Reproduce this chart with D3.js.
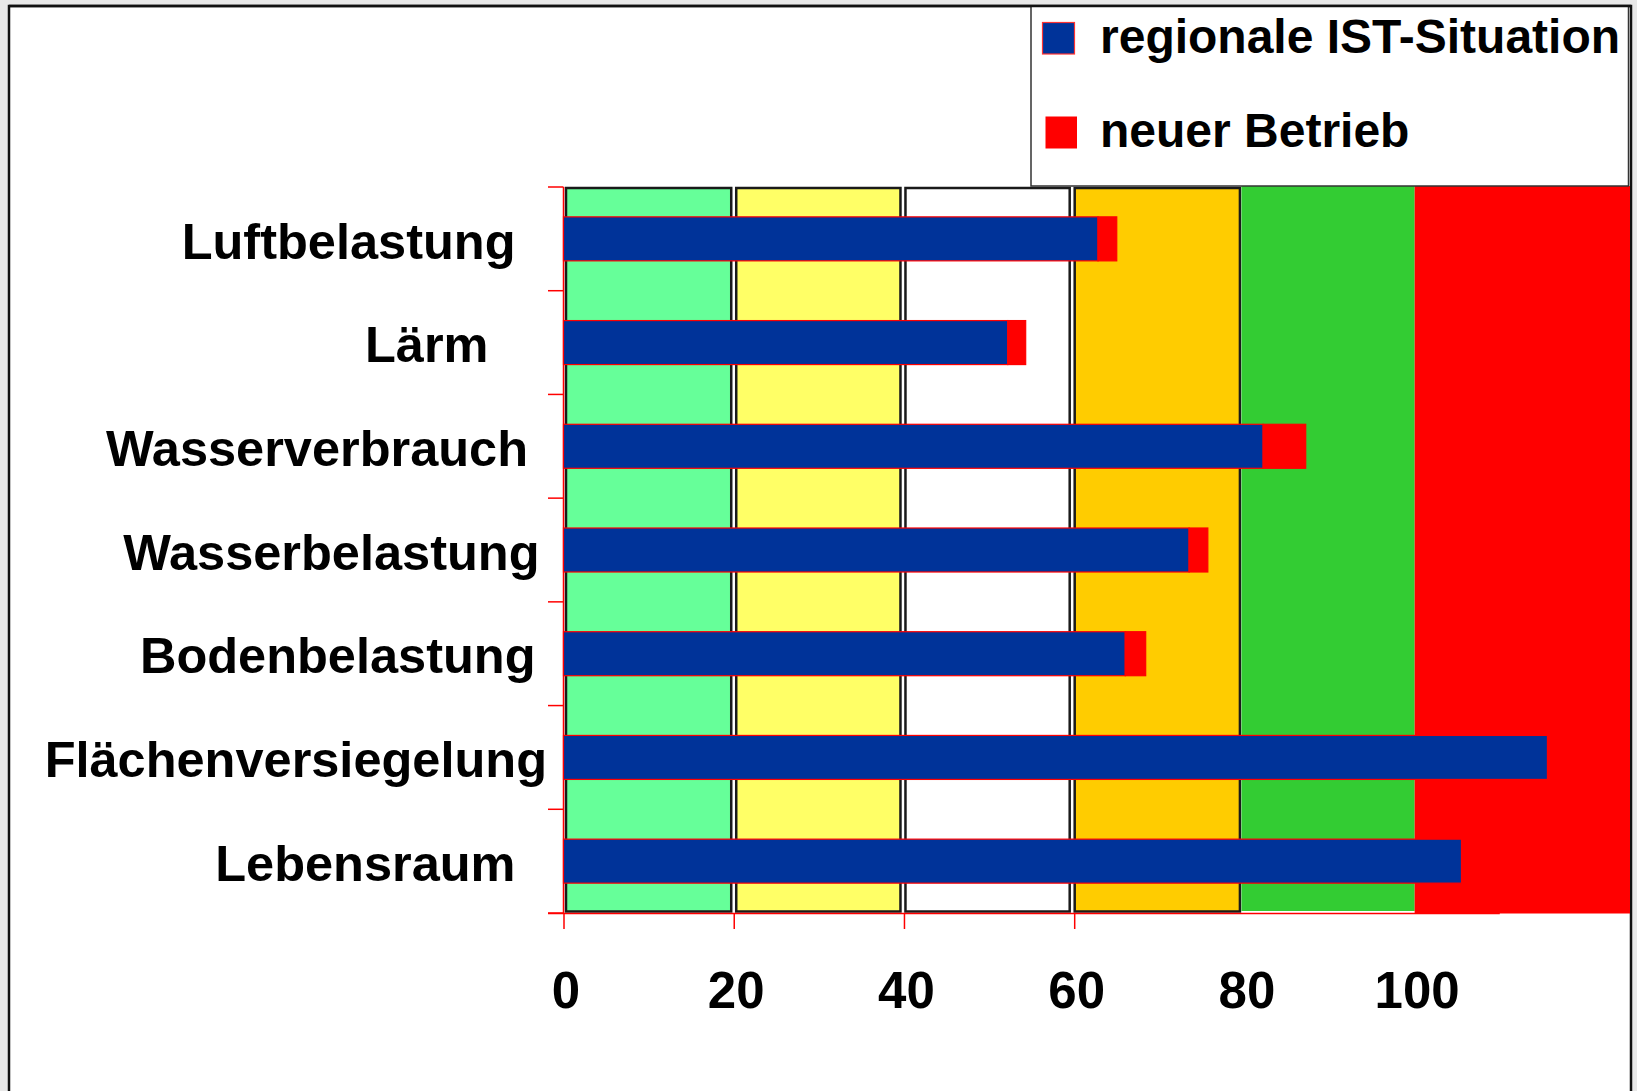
<!DOCTYPE html>
<html>
<head>
<meta charset="utf-8">
<script src="https://cdn.jsdelivr.net/npm/d3@7"></script>
<style>
  body { margin: 0; background: #e8e8e8; }
  svg { display: block; }
  text { font-family: "Liberation Sans", Arial, sans-serif; font-weight: bold; fill: #000; }
</style>
</head>
<body>
<div class="chart"></div>
<script>
// categories top to bottom
const categories = ["Luftbelastung", "Lärm", "Wasserverbrauch", "Wasserbelastung",
    "Bodenbelastung", "Flächenversiegelung", "Lebensraum"];
// regionale IST-Situation
const istValues = [62.8, 52.2, 82.2, 73.5, 66.0, 115.6, 105.5];
// neuer Betrieb (added on top)
const neuValues = [2.2, 2.1, 5.0, 2.2, 2.4, 0, 0];
const seriesNames = ["regionale IST-Situation", "neuer Betrieb"];
const xTicks = [0, 20, 40, 60, 80, 100];
// rating zones behind the bars
const zoneBreaks = [0, 20, 40, 60, 80, 100, 125.3];

const W = 1637, H = 1091;
const plot = { left: 563.5, right: 1630, top: 187, bottom: 913 };

const svg = d3.select(".chart").append("svg")
    .attr("width", W)
    .attr("height", H);

// slide frame
svg.append("rect")
    .attr("x", 9).attr("y", 6)
    .attr("width", 1622).attr("height", H)
    .attr("fill", "#fff")
    .attr("stroke", "#111")
    .attr("stroke-width", 2.5);

const x = d3.scaleLinear()
    .domain([0, zoneBreaks[zoneBreaks.length - 1]])
    .range([plot.left, plot.right]);

const y = d3.scaleBand()
    .domain(categories)
    .range([plot.top, plot.bottom])
    .padding(0);

// zones (the original drawing sits a couple of px left of the scale for 60-100)
const zoneColors = ["#66ff99", "#ffff66", "#ffffff", "#ffcc00", "#33cc33", "#ff0000"];
const zoneNudge = [0, 0, -1, -2, -2, 0, 0];
const zones = d3.pairs(zoneBreaks).map((p, i) => ({ a: p[0], b: p[1], i }));
const zx = (v, i) => x(v) + zoneNudge[i];

svg.append("g")
    .selectAll("rect")
    .data(zones)
    .enter()
    .append("rect")
    .attr("x", d => d.i < 4 ? zx(d.a, d.i) + 2.5 : zx(d.a, d.i) - (d.i === 4 ? 1 : 0))
    .attr("y", d => d.i < 4 ? plot.top + 1 : plot.top - 1)
    .attr("width", d => d.i < 4
        ? zx(d.b, d.i + 1) - zx(d.a, d.i) - 5
        : zx(d.b, d.i + 1) - zx(d.a, d.i) + (d.i === 4 ? 1 : 0))
    .attr("height", d => d.i < 4 ? plot.bottom - plot.top - 2.5 : (d.i === 4 ? plot.bottom - plot.top - 1 : plot.bottom - plot.top + 1.5))
    .attr("fill", d => zoneColors[d.i])
    .attr("stroke", d => d.i < 4 ? "#1a1a1a" : "none")
    .attr("stroke-width", 2.5);

// y axis (red line + ticks at category boundaries)
const yLines = svg.append("g").attr("stroke", "#ff0000").attr("stroke-width", 1.5);
yLines.append("line")
    .attr("x1", plot.left).attr("x2", plot.left)
    .attr("y1", plot.top).attr("y2", plot.bottom);
yLines.selectAll(".ytick")
    .data(categories.concat([null]))
    .enter()
    .append("line")
    .attr("class", "ytick")
    .attr("x1", plot.left - 15.5).attr("x2", plot.left)
    .attr("y1", (d, i) => plot.top + i * y.step())
    .attr("y2", (d, i) => plot.top + i * y.step());
yLines.append("line")
    .attr("x1", plot.left - 15.5).attr("x2", x(110))
    .attr("y1", plot.bottom + 0.5).attr("y2", plot.bottom + 0.5);

// x axis
const xAxis = svg.append("g")
    .attr("transform", `translate(0,${plot.bottom})`)
    .call(d3.axisBottom(x).tickValues(xTicks).tickSize(16).tickPadding(0));
xAxis.select(".domain").remove();
xAxis.selectAll(".tick line")
    .attr("stroke", "#ff0000")
    .attr("stroke-width", 1.5)
    .attr("opacity", d => d <= 60 ? 1 : 0);
xAxis.selectAll(".tick text")
    .attr("x", 2)
    .attr("y", 95)
    .attr("dy", 0)
    .style("font-size", "51px")
    .style("font-family", "'Liberation Sans', Arial, sans-serif")
    .style("font-weight", "bold")
    .attr("fill", "#000");

// bars
const barH = 44;
const rows = categories.map((c, i) => ({ name: c, ist: istValues[i], neu: neuValues[i] }));
const barY = d => y(d.name) + (y.bandwidth() - barH) / 2;

svg.append("g")
    .selectAll("rect")
    .data(rows)
    .enter()
    .append("rect")
    .attr("x", x(0))
    .attr("y", barY)
    .attr("width", d => x(d.ist) - x(0))
    .attr("height", barH)
    .attr("fill", "#003399")
    .attr("stroke", "#ff0000")
    .attr("stroke-width", 1.2);

svg.append("g")
    .selectAll("rect")
    .data(rows.filter(d => d.neu > 0))
    .enter()
    .append("rect")
    .attr("x", d => x(d.ist))
    .attr("y", barY)
    .attr("width", d => x(d.ist + d.neu) - x(d.ist))
    .attr("height", barH)
    .attr("fill", "#ff0000")
    .attr("stroke", "#ff0000")
    .attr("stroke-width", 1.2);

// category labels (hand placed in the original, right ends vary)
const labelShift = [31.5, 58.5, 19, 7.5, 11.5, 0, 31.5];
svg.append("g")
    .selectAll("text")
    .data(categories)
    .enter()
    .append("text")
    .attr("x", (d, i) => 547 - labelShift[i])
    .attr("y", d => y(d) + y.bandwidth() / 2 + 19.7)
    .attr("text-anchor", "end")
    .style("font-size", "50.5px")
    .text(d => d);

// legend
const legend = svg.append("g");
legend.append("rect")
    .attr("x", 1031).attr("y", 6)
    .attr("width", 597.5).attr("height", 180)
    .attr("fill", "#fff")
    .attr("stroke", "#333")
    .attr("stroke-width", 1.5);

legend.append("rect")
    .attr("x", 1042.5).attr("y", 22.5)
    .attr("width", 32).attr("height", 31.5)
    .attr("fill", "#003399")
    .attr("stroke", "#ff3333")
    .attr("stroke-width", 1.2);
legend.append("rect")
    .attr("x", 1045.5).attr("y", 116.5)
    .attr("width", 31.5).attr("height", 32)
    .attr("fill", "#ff0000");

legend.selectAll("text")
    .data(seriesNames)
    .enter()
    .append("text")
    .attr("x", 1100)
    .attr("y", (d, i) => 53.3 + i * 94)
    .style("font-size", "48px")
    .text(d => d);

// frame line on top of the legend edge
svg.append("line")
    .attr("x1", 9).attr("x2", 1631)
    .attr("y1", 6).attr("y2", 6)
    .attr("stroke", "#111")
    .attr("stroke-width", 2.5);
</script>
</body>
</html>
